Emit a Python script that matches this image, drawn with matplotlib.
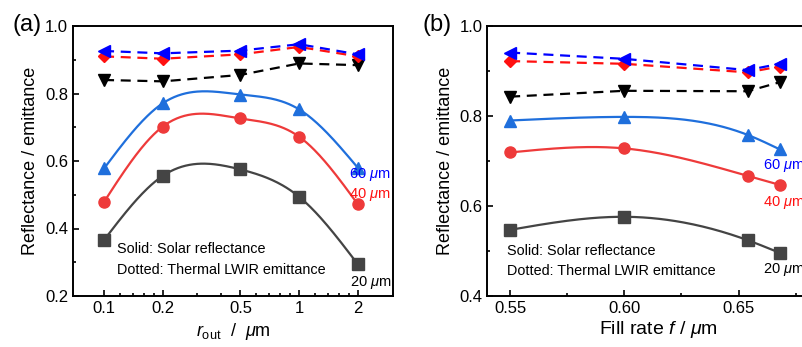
import numpy as np
import matplotlib
matplotlib.use("Agg")
import matplotlib.pyplot as plt
from matplotlib.ticker import FixedLocator, NullFormatter, MultipleLocator

plt.rcParams["font.family"] = ["Liberation Sans", "DejaVu Sans"]
plt.rcParams["mathtext.fontset"] = "custom"
plt.rcParams["mathtext.rm"] = "Liberation Sans"
plt.rcParams["mathtext.it"] = "Liberation Sans:italic"

# panel (a): outer radius sweep
r_out = [0.1, 0.2, 0.5, 1.0, 2.0]
a_sol_20 = [0.366, 0.556, 0.575, 0.494, 0.294]
a_sol_40 = [0.479, 0.702, 0.726, 0.672, 0.472]
a_sol_60 = [0.578, 0.771, 0.797, 0.753, 0.580]
a_ir_20 = [0.840, 0.836, 0.855, 0.889, 0.884]
a_ir_40 = [0.910, 0.903, 0.916, 0.938, 0.910]
a_ir_60 = [0.926, 0.919, 0.927, 0.946, 0.916]

# panel (b): fill rate sweep
fill = [0.55, 0.60, 0.654, 0.668]
b_sol_20 = [0.547, 0.576, 0.524, 0.496]
b_sol_40 = [0.719, 0.728, 0.667, 0.647]
b_sol_60 = [0.790, 0.798, 0.758, 0.726]
b_ir_20 = [0.843, 0.856, 0.855, 0.875]
b_ir_40 = [0.922, 0.916, 0.897, 0.910]
b_ir_60 = [0.941, 0.927, 0.902, 0.916]

C_BLUE, C_RED, C_GRAY = "#1f6fdc", "#ee3a3a", "#444444"


def natural_spline(x, y, n=200):
    x = np.asarray(x, float)
    y = np.asarray(y, float)
    k = len(x)
    h = np.diff(x)
    A = np.zeros((k, k))
    rhs = np.zeros(k)
    A[0, 0] = A[-1, -1] = 1.0
    for i in range(1, k - 1):
        A[i, i - 1] = h[i - 1]
        A[i, i] = 2 * (h[i - 1] + h[i])
        A[i, i + 1] = h[i]
        rhs[i] = 6 * ((y[i + 1] - y[i]) / h[i] - (y[i] - y[i - 1]) / h[i - 1])
    M = np.linalg.solve(A, rhs)
    xs = np.linspace(x[0], x[-1], n)
    j = np.clip(np.searchsorted(x, xs) - 1, 0, k - 2)
    t0 = x[j + 1] - xs
    t1 = xs - x[j]
    hj = h[j]
    ys = (M[j] * t0**3 + M[j + 1] * t1**3) / (6 * hj) \
        + (y[j] / hj - M[j] * hj / 6) * t0 + (y[j + 1] / hj - M[j + 1] * hj / 6) * t1
    return xs, ys


def draw(ax, x, sols, irs, logx):
    for yv, c, m in zip(sols, [C_GRAY, C_RED, C_BLUE], ["s", "o", "^"]):
        if logx:
            xs, ys = natural_spline(np.log10(x), yv)
            xs = 10**xs
        else:
            xs, ys = natural_spline(x, yv)
        ax.plot(xs, ys, "-", color=c, lw=1.6)
        ax.plot(x, yv, m, color=c, ms=8, mec=c)
    for yv, c, m in zip(irs, ["black", "#ff1010", "#0000ff"], ["v", "D", "<"]):
        ax.plot(x, yv, "--", color=c, lw=1.6, marker=m, ms=8 if m != "D" else 6.5,
                dashes=(4.5, 3))
    ax.tick_params(which="both", direction="in", top=False, right=False,
                   labelsize=12, width=1.2)
    ax.tick_params(which="major", length=4)
    ax.tick_params(which="minor", length=2.5)
    for s in ax.spines.values():
        s.set_linewidth(1.4)
    ax.set_ylabel("Reflectance / emittance", fontsize=13)


fig = plt.figure(figsize=(8.02, 3.47), dpi=100)
axa = fig.add_axes([73 / 802, 51 / 347, 320 / 802, 270 / 347])
axb = fig.add_axes([487.3 / 802, 51 / 347, 342.6 / 802, 270 / 347])

draw(axa, r_out, [a_sol_20, a_sol_40, a_sol_60], [a_ir_20, a_ir_40, a_ir_60], True)
axa.set_xscale("log")
axa.set_xlim(0.0693, 3.03)
axa.set_ylim(0.2, 1.0)
axa.xaxis.set_major_locator(FixedLocator(r_out))
axa.set_xticklabels(["0.1", "0.2", "0.5", "1", "2"])
axa.xaxis.set_minor_locator(FixedLocator([0.3, 0.4, 0.6, 0.7, 0.8, 0.9,
                                          0.12, 0.14, 0.16, 0.18, 1.2, 1.4, 1.6, 1.8]))
axa.xaxis.set_minor_formatter(NullFormatter())
axa.yaxis.set_major_locator(MultipleLocator(0.2))
axa.yaxis.set_minor_locator(MultipleLocator(0.1))
axa.set_xlabel(r"$r_{\rm out}$  /  $\mu$m", fontsize=13, labelpad=4)
axa.text(0.1166, 0.339, "Solid: Solar reflectance", fontsize=10.4, va="center")
axa.text(0.1166, 0.277, "Dotted: Thermal LWIR emittance", fontsize=10.4, va="center")
axa.text(1.80, 0.561, r"60 $\mu$m", color="#0000ff", fontsize=10.5, va="center")
axa.text(1.80, 0.501, r"40 $\mu$m", color="#ff1010", fontsize=10.5, va="center")
axa.text(1.83, 0.239, r"20 $\mu$m", color="black", fontsize=10.5, va="center")

draw(axb, fill, [b_sol_20, b_sol_40, b_sol_60], [b_ir_20, b_ir_40, b_ir_60], False)
axb.set_xlim(0.540, 0.690)
axb.set_ylim(0.4, 1.0)
axb.xaxis.set_major_locator(MultipleLocator(0.05))
axb.xaxis.set_minor_locator(MultipleLocator(0.025))
axb.xaxis.set_major_formatter(matplotlib.ticker.FormatStrFormatter("%.2f"))
axb.yaxis.set_major_locator(MultipleLocator(0.2))
axb.yaxis.set_minor_locator(MultipleLocator(0.1))
axb.set_xlabel(r"Fill rate $f$ / $\mu$m", fontsize=14, labelpad=2)
axb.text(0.5487, 0.500, "Solid: Solar reflectance", fontsize=10.4, va="center")
axb.text(0.5487, 0.4556, "Dotted: Thermal LWIR emittance", fontsize=10.4, va="center")
axb.text(0.6608, 0.689, r"60 $\mu$m", color="#0000ff", fontsize=10.5, va="center")
axb.text(0.6608, 0.607, r"40 $\mu$m", color="#ff1010", fontsize=10.5, va="center")
axb.text(0.6608, 0.460, r"20 $\mu$m", color="black", fontsize=10.5, va="center")

fig.text(12 / 802, 1 - 25 / 347, "(a)", fontsize=17, va="center")
fig.text(423 / 802, 1 - 25 / 347, "(b)", fontsize=17, va="center")

fig.savefig("out.png", dpi=100)
